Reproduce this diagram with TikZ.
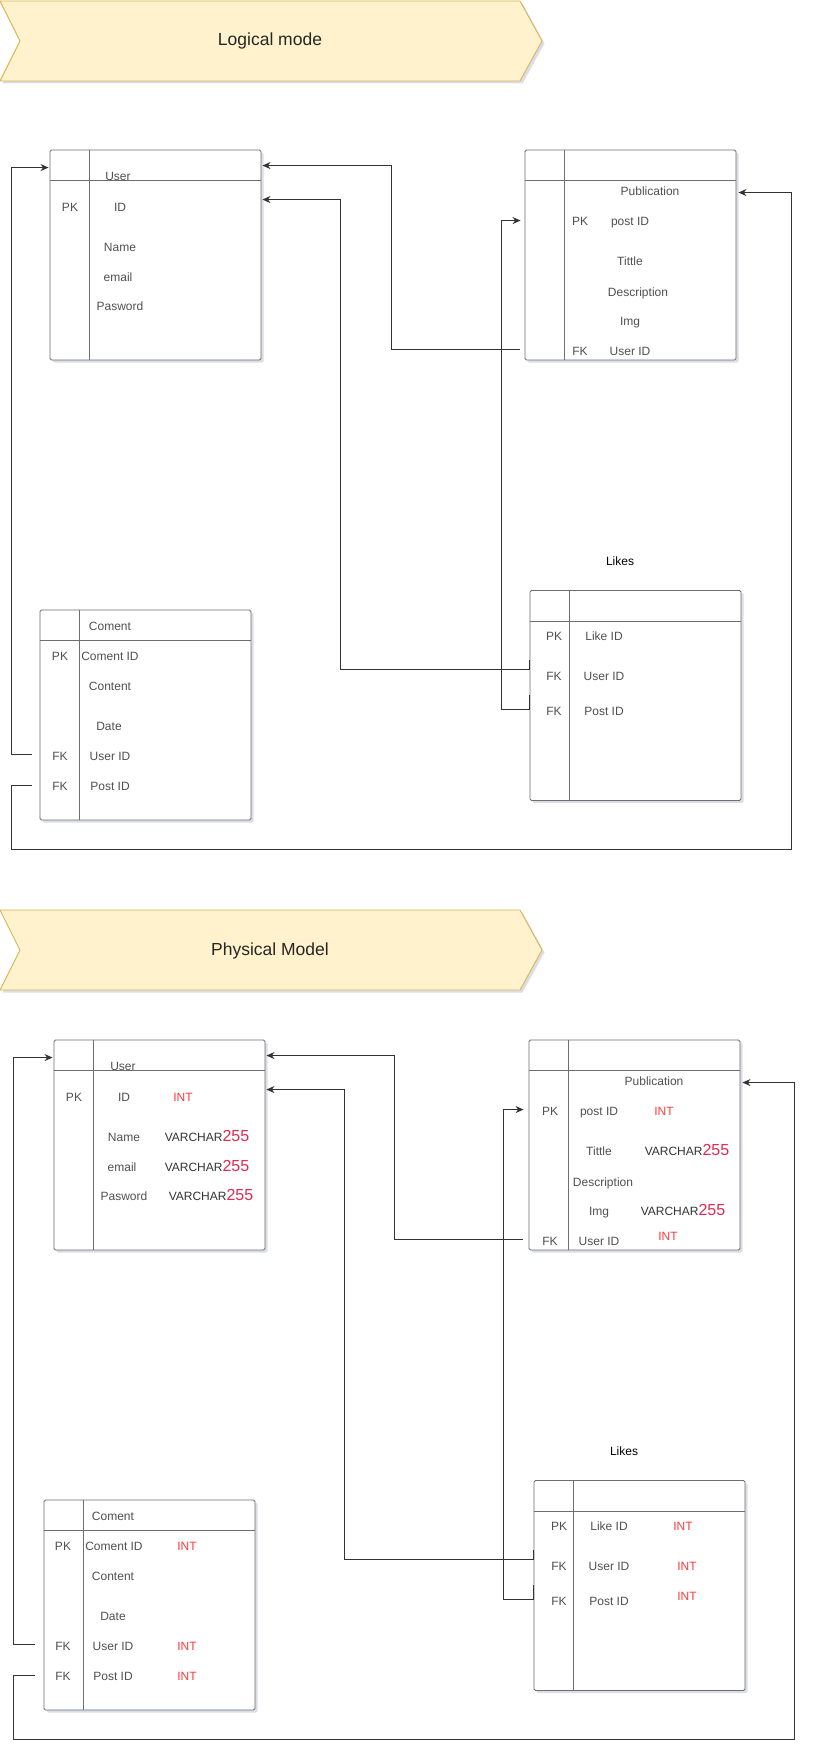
\documentclass[tikz,border=0pt]{standalone}
\usepackage{fontspec}
\setmainfont{Liberation Sans}
\usetikzlibrary{calc,shadows,arrows.meta}
\definecolor{bannerfill}{HTML}{FFF2CC}
\definecolor{bannerdraw}{HTML}{D6B656}
\definecolor{txtgray}{HTML}{505050}
\definecolor{tblline}{HTML}{6E6E6E}
\definecolor{connline}{HTML}{333333}
\definecolor{intred}{HTML}{FF3B3B}
\definecolor{numred}{HTML}{E02A55}
\definecolor{shadowc}{HTML}{9AA0C0}
\tikzset{
  tbl/.style={draw=tblline, line width=0.9pt, fill=white, rounded corners=1.5pt,
    minimum width=211pt, minimum height=210pt, inner sep=0pt,
    drop shadow={shadow xshift=2.5pt, shadow yshift=-2.5pt, opacity=0.35, fill=shadowc}},
  tline/.style={draw=tblline, line width=0.7pt},
  txt/.style={anchor=base, yshift=-4.4pt, inner sep=0pt, text=txtgray},
  ttl/.style={anchor=base, yshift=-4.4pt, inner sep=0pt, text=black},
  inttxt/.style={anchor=base, yshift=-4.4pt, inner sep=0pt, text=intred},
  vctxt/.style={anchor=base, yshift=-4.4pt, inner sep=0pt, text=connline},
  conn/.style={draw=connline, line width=1pt, -{Stealth[length=8pt,width=7pt]}},
  banner/.style={fill=bannerfill, draw=bannerdraw, line width=0.9pt,
    drop shadow={shadow xshift=2.5pt, shadow yshift=-2.5pt, opacity=0.35, fill=shadowc}},
  bantxt/.style={inner sep=0pt, text=black!85, font=\fontsize{17.5}{20}\selectfont}
}
\newcommand{\vch}{VARCHAR{\fontsize{16}{16}\selectfont\color{numred}255}}
\newcommand{\tblframe}[1]{%
  \draw[tline] ($(#1.north west)+(0,31)$) -- ($(#1.north east)+(0,31)$);
  \draw[tline] ($(#1.north west)+(40,0)$) -- ($(#1.south west)+(40,0)$);
}
\begin{document}
\begin{tikzpicture}[x=1pt,y=-1pt,font=\fontsize{12}{14}\selectfont]
\useasboundingbox (0,0) rectangle (814,1760);
\fill[white] (0,0) rectangle (814,1760);

% ---------- Banner 1 ----------
\path[banner] (0,1) -- (520,1) -- (542,41) -- (520,81) -- (0,81) -- (20,41) -- cycle;
\node[bantxt] (ban1) at (270,41) {Logical mode};

% ---------- Logical model ----------
\node[tbl] (user) at (155.5,255) {};
\tblframe{user}
\node[tbl] (pub) at (630.5,255) {};
\tblframe{pub}
\node[tbl] (coment) at (145.5,715) {};
\tblframe{coment}
\node[tbl] (likes) at (635.5,695.5) {};
\tblframe{likes}

\node[txt] (uT) at (118,176) {User};
\node[txt] (uPK) at (70,207) {PK};
\node[txt] (uID) at (120,207) {ID};
\node[txt] (uN) at (120,247) {Name};
\node[txt] (uE) at (118,277) {email};
\node[txt] (uP) at (120,306) {Pasword};

\node[txt] (pT) at (650,191) {Publication};
\node[txt] (pPK) at (580,221) {PK};
\node[txt] (pID) at (630,221) {post ID};
\node[txt] (pTi) at (630,261) {Tittle};
\node[txt] (pD) at (638,292) {Description};
\node[txt] (pI) at (630,321) {Img};
\node[txt] (pFK) at (580,351) {FK};
\node[txt] (pU) at (630,351) {User ID};

\node[txt] (cT) at (110,626) {Coment};
\node[txt] (cPK) at (60,656) {PK};
\node[txt] (cID) at (110,656) {Coment ID};
\node[txt] (cC) at (110,686) {Content};
\node[txt] (cD) at (109,726) {Date};
\node[txt] (cFK1) at (60,756) {FK};
\node[txt] (cU) at (110,756) {User ID};
\node[txt] (cFK2) at (60,786) {FK};
\node[txt] (cP) at (110,786) {Post ID};

\node[ttl] (lT) at (620,561) {Likes};
\node[txt] (lPK) at (554,636) {PK};
\node[txt] (lID) at (604,636) {Like ID};
\node[txt] (lFK1) at (554,676) {FK};
\node[txt] (lU) at (604,676) {User ID};
\node[txt] (lFK2) at (554,711) {FK};
\node[txt] (lP) at (604,711) {Post ID};

% connectors (logical)
\draw[conn] ($(likes.north west)+(0,70)$) -- ++(0,9) -| ($(user.north east)+(79,50)$) -- ($(user.north east)+(1,50)$);
\draw[conn] ($(likes.north west)+(0,105)$) -- ++(0,14) -| ($(pub.north west)+(-23,71)$) -- ($(pub.north west)+(-4,71)$);
\draw[conn] ($(pub.north west)+(-5,200)$) -| ($(user.north east)+(130,16)$) -- ($(user.north east)+(1,16)$);
\draw[conn] ($(coment.north west)+(-8,145)$) -| ($(user.north west)+(-38,18)$) -- ($(user.north west)+(-1,18)$);
\draw[conn] ($(coment.north west)+(-8,176)$) -- ++(-20,0) -- ++(0,64) -| ($(pub.north east)+(55,43)$) -- ($(pub.north east)+(2,43)$);

% ---------- Banner 2 ----------
\path[banner] (0,910) -- (520,910) -- (542,950) -- (520,990) -- (0,990) -- (20,950) -- cycle;
\node[bantxt] (ban2) at (270,951) {Physical Model};

% ---------- Physical model ----------
\begin{scope}[shift={(4,890)}]
\node[tbl] (user2) at (155.5,255) {};
\tblframe{user2}
\node[tbl] (pub2) at (630.5,255) {};
\tblframe{pub2}
\node[tbl] (coment2) at (145.5,715) {};
\tblframe{coment2}
\node[tbl] (likes2) at (635.5,695.5) {};
\tblframe{likes2}

\node[txt] (uT2) at (119,176) {User};
\node[txt] (uPK2) at (70,207) {PK};
\node[txt] (uID2) at (120,207) {ID};
\node[inttxt] (uIDt) at (179,207) {INT};
\node[txt] (uN2) at (120,247) {Name};
\node[vctxt] (uNt) at (203,247) {\vch};
\node[txt] (uE2) at (118,277) {email};
\node[vctxt] (uEt) at (203,277) {\vch};
\node[txt] (uP2) at (120,306) {Pasword};
\node[vctxt] (uPt) at (207,306) {\vch};

\node[txt] (pT2) at (650,191) {Publication};
\node[txt] (pPK2) at (546,221) {PK};
\node[txt] (pID2) at (595,221) {post ID};
\node[inttxt] (pIDt) at (660,221) {INT};
\node[txt] (pTi2) at (595,261) {Tittle};
\node[vctxt] (pTit) at (683,261) {\vch};
\node[txt] (pD2) at (599,292) {Description};
\node[txt] (pI2) at (595,321) {Img};
\node[vctxt] (pIt) at (679,321) {\vch};
\node[txt] (pFK2) at (546,351) {FK};
\node[txt] (pU2) at (595,351) {User ID};
\node[inttxt] (pUt) at (664,346) {INT};

\node[txt] (cT2) at (109,626) {Coment};
\node[txt] (cPK2) at (59,656) {PK};
\node[txt] (cID2) at (110,656) {Coment ID};
\node[inttxt] (cIDt) at (183,656) {INT};
\node[txt] (cC2) at (109,686) {Content};
\node[txt] (cD2) at (109,726) {Date};
\node[txt] (cFK12) at (59,756) {FK};
\node[txt] (cU2) at (109,756) {User ID};
\node[inttxt] (cUt) at (183,756) {INT};
\node[txt] (cFK22) at (59,786) {FK};
\node[txt] (cP2) at (109,786) {Post ID};
\node[inttxt] (cPt) at (183,786) {INT};

\node[ttl] (lT2) at (620,561) {Likes};
\node[txt] (lPK2) at (555,636) {PK};
\node[txt] (lID2) at (605,636) {Like ID};
\node[inttxt] (lIDt) at (679,636) {INT};
\node[txt] (lFK12) at (555,676) {FK};
\node[txt] (lU2) at (605,676) {User ID};
\node[inttxt] (lUt) at (683,676) {INT};
\node[txt] (lFK22) at (555,711) {FK};
\node[txt] (lP2) at (605,711) {Post ID};
\node[inttxt] (lPt) at (683,706) {INT};

% connectors (physical)
\draw[conn] ($(likes2.north west)+(0,70)$) -- ++(0,9) -| ($(user2.north east)+(79,50)$) -- ($(user2.north east)+(1,50)$);
\draw[conn] ($(likes2.north west)+(0,105)$) -- ++(0,14) -| ($(pub2.north west)+(-25,70)$) -- ($(pub2.north west)+(-5,70)$);
\draw[conn] ($(pub2.north west)+(-6,200)$) -| ($(user2.north east)+(129,16)$) -- ($(user2.north east)+(1,16)$);
\draw[conn] ($(coment2.north west)+(-9,145)$) -| ($(user2.north west)+(-40,18)$) -- ($(user2.north west)+(-1,18)$);
\draw[conn] ($(coment2.north west)+(-9,176)$) -- ++(-21,0) -- ++(0,64) -| ($(pub2.north east)+(54,43)$) -- ($(pub2.north east)+(2,43)$);
\end{scope}
\end{tikzpicture}
\end{document}
